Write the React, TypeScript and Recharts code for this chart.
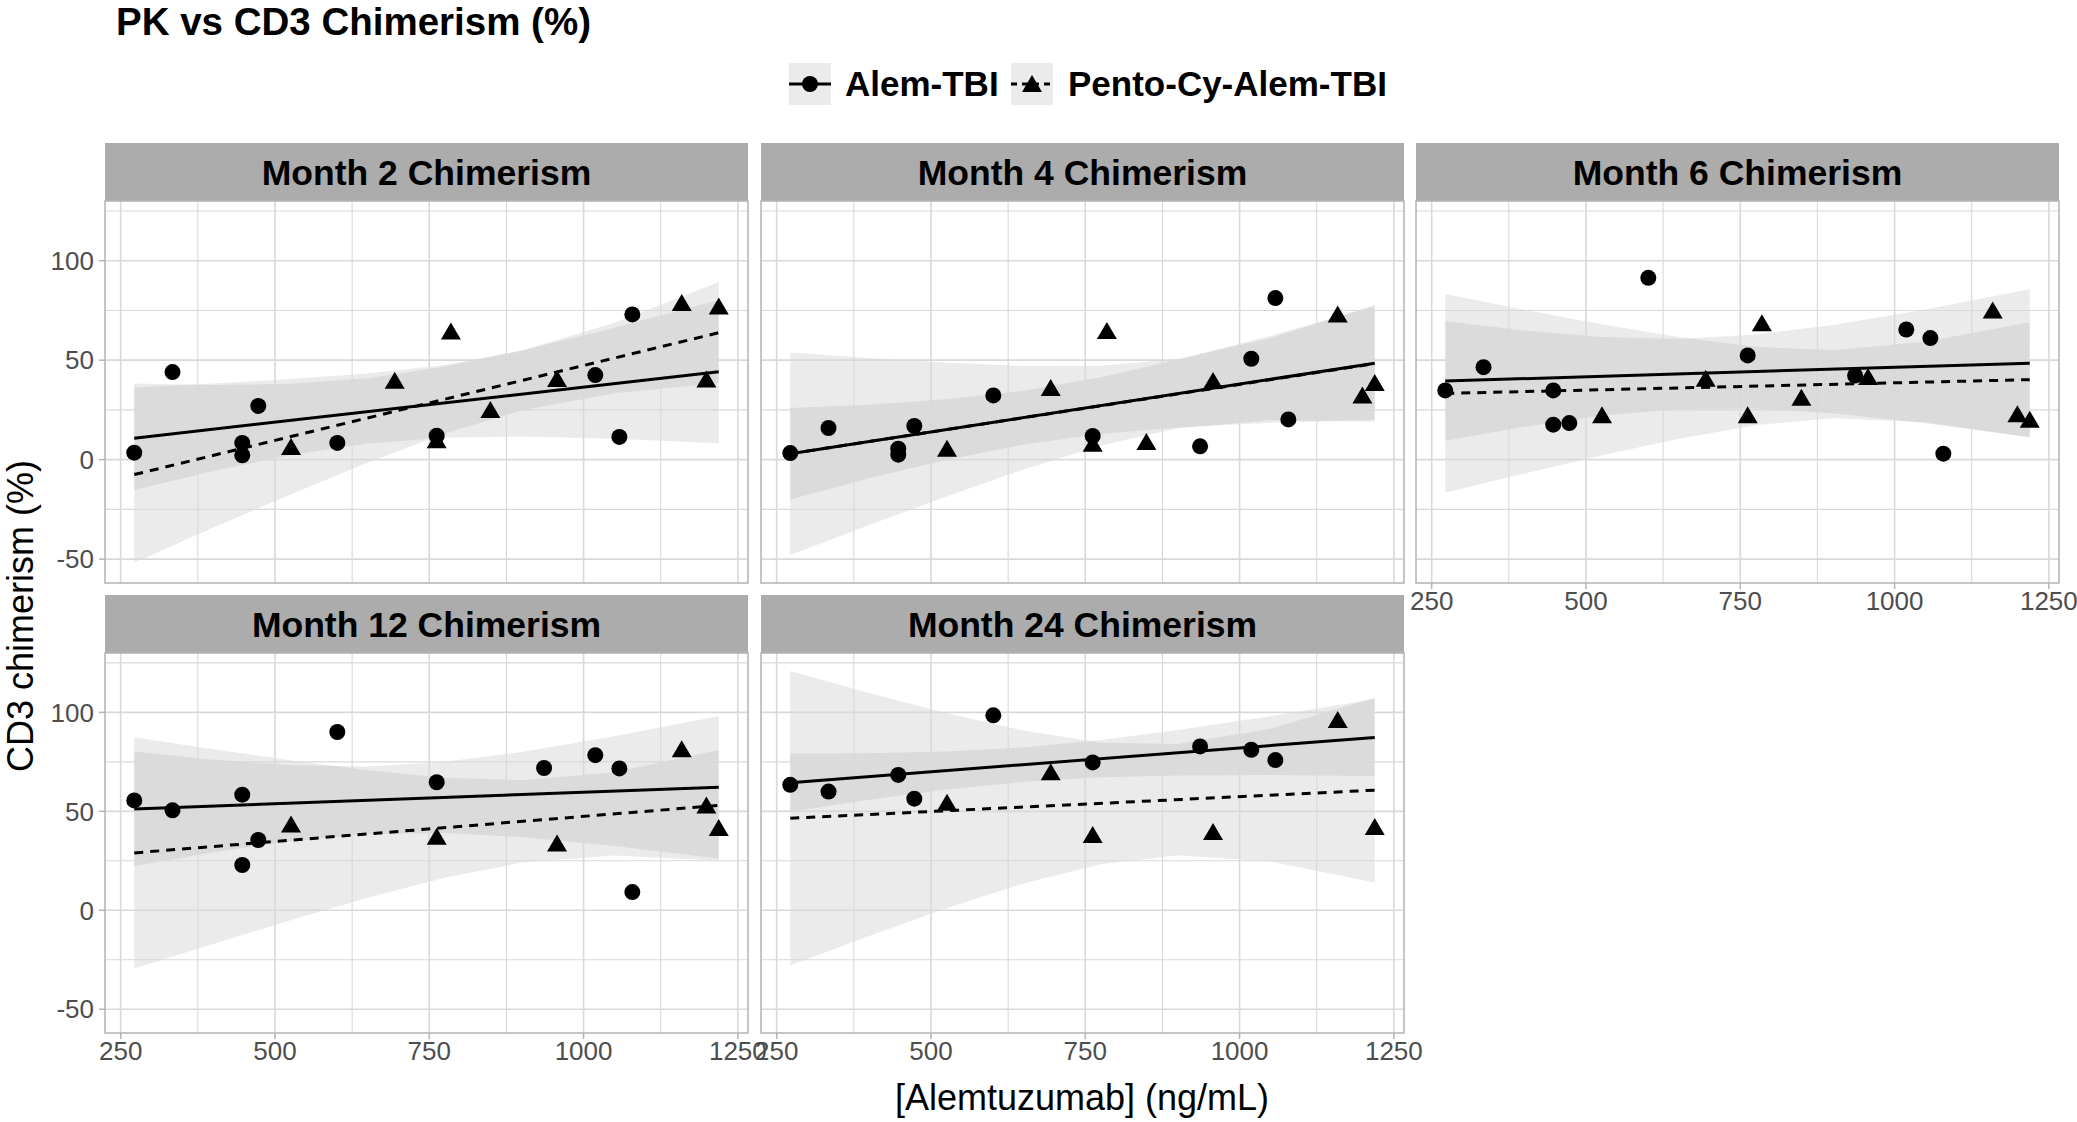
import React from 'react';
import { ComposedChart, Area, Line, Scatter, XAxis, YAxis, ReferenceLine } from 'recharts';

// ---------- data ----------
const PANEL_TITLES = ['Month 2 Chimerism', 'Month 4 Chimerism', 'Month 6 Chimerism', 'Month 12 Chimerism', 'Month 24 Chimerism'];
const SERIES_NAMES = ['Alem-TBI', 'Pento-Cy-Alem-TBI'];
const X_TICKS = [250, 500, 750, 1000, 1250];
const X_MINOR = [375, 625, 875, 1125];
const Y_TICKS = [-50, 0, 50, 100];
const Y_MINOR = [-25, 25, 75, 125];
const X_DOMAIN = [224.6, 1266.4];
const Y_DOMAIN = [-62, 130];

// x positions where the fitted lines / confidence bands were read
const FIT_X = [272, 400, 525, 650, 775, 900, 1050, 1219];

// Month 2
const m2AlemX = [272, 334, 447, 447, 473, 601, 762, 1019, 1058, 1079];
const m2AlemY = [3.5, 44, 8.4, 2.2, 27, 8.4, 12, 42.5, 11.4, 73];
const m2PentoX = [526, 694, 762, 785, 849, 957, 1159, 1199, 1219];
const m2PentoY = [6.4, 39.7, 9.7, 64.4, 24.9, 40.5, 78.7, 40.3, 77];
const m2AlemFit = [10.8, 44.2];
const m2PentoFit = [-7.5, 63.8];
const m2AlemLow = [-15.3, -5.7, 2.3, 8.1, 11.0, 11.6, 10.5, 8.2];
const m2AlemHigh = [38.3, 37.5, 38.1, 40.9, 46.8, 54.8, 66.3, 80.2];
const m2PentoLow = [-51.8, -34.1, -17.5, -1.5, 13.2, 24.8, 33.4, 38.5];
const m2PentoHigh = [36.3, 38.3, 40.5, 43.3, 47.6, 54.8, 68.8, 89.1];

// Month 4
const m4AlemX = [272, 334, 447, 447, 473, 601, 762, 936, 1019, 1058, 1079];
const m4AlemY = [3.3, 15.9, 5.5, 2.5, 16.9, 32.3, 11.9, 6.7, 50.7, 81.2, 20.2];
const m4PentoX = [526, 694, 762, 785, 849, 957, 1159, 1199, 1219];
const m4PentoY = [5.5, 36, 8, 64.6, 8.9, 39.5, 73, 32.3, 38.5];
const m4AlemFit = [3.0, 48.5];
const m4PentoFit = [3.0, 48.3];
const m4AlemLow = [-20.0, -9.4, -0.1, 7.6, 12.9, 16.2, 18.5, 20.0];
const m4AlemHigh = [26.0, 27.6, 30.3, 34.6, 41.4, 50.2, 62.3, 77.0];
const m4PentoLow = [-47.9, -32.9, -18.5, -4.9, 7.1, 15.8, 19.8, 19.1];
const m4PentoHigh = [53.9, 51.1, 48.7, 47.1, 47.2, 50.6, 61.0, 77.9];

// Month 6
const m6AlemX = [272, 334, 447, 447, 473, 601, 762, 936, 1019, 1058, 1079];
const m6AlemY = [34.8, 46.5, 34.8, 17.6, 18.4, 91.4, 52.4, 42.3, 65.4, 61.1, 3.0];
const m6PentoX = [526, 694, 762, 785, 849, 957, 1159, 1199, 1219];
const m6PentoY = [22.3, 40.7, 22.3, 68.6, 31.1, 41.5, 75, 22.8, 20.1];
const m6AlemFit = [39.5, 48.5];
const m6PentoFit = [33.3, 40.2];
const m6AlemLow = [9.5, 16.5, 22.1, 25.5, 25.7, 23.3, 18.3, 11.3];
const m6AlemHigh = [69.5, 64.9, 61.7, 60.7, 62.9, 67.7, 75.5, 85.7];
const m6PentoLow = [-16.6, -7.0, 2.1, 10.5, 17.3, 20.8, 18.8, 11.3];
const m6PentoHigh = [83.2, 75.4, 68.1, 61.6, 56.7, 55.0, 59.2, 69.1];

// Month 12
const m12AlemX = [272, 334, 447, 447, 473, 601, 762, 936, 1019, 1058, 1079];
const m12AlemY = [55.5, 50.5, 58.4, 22.9, 35.5, 90.1, 64.7, 71.9, 78.4, 71.7, 9.2];
const m12PentoX = [526, 762, 957, 1159, 1199, 1219];
const m12PentoY = [43.3, 37.1, 33.8, 81.4, 53.0, 41.6];
const m12AlemFit = [51.2, 62.2];
const m12PentoFit = [29, 53];
const m12AlemLow = [22.2, 29.3, 34.9, 38.5, 39.0, 37.0, 32.5, 26.2];
const m12AlemHigh = [80.2, 76.1, 73.3, 72.7, 75.0, 80.0, 87.9, 98.2];
const m12PentoLow = [-29.4, -17.0, -5.0, 6.4, 16.4, 24.1, 27.7, 25.0];
const m12PentoHigh = [87.4, 81.4, 75.8, 70.8, 67.0, 65.7, 69.7, 81.0];

// Month 24
const m24AlemX = [272, 334, 447, 473, 601, 762, 936, 1019, 1058];
const m24AlemY = [63.4, 60, 68.4, 56.4, 98.5, 74.7, 82.8, 81.1, 75.9];
const m24PentoX = [526, 694, 762, 957, 1159, 1219];
const m24PentoY = [54.3, 69.7, 38, 39.6, 96.2, 42.1];
const m24AlemFit = [64.5, 87.3];
const m24PentoFit = [46.5, 60.7];
const m24AlemLow = [49.8, 55.8, 61.0, 64.9, 67.2, 68.1, 68.3, 67.9];
const m24AlemHigh = [79.2, 79.4, 80.2, 82.3, 86.0, 91.1, 98.1, 106.7];
const m24PentoLow = [-27.9, -13.0, 1.0, 13.6, 23.3, 27.8, 24.7, 14.0];
const m24PentoHigh = [120.9, 109.8, 99.6, 90.8, 84.7, 84.0, 91.7, 107.4];

// ---------- helpers ----------
const FONT = "'Liberation Sans', Arial, Helvetica, sans-serif";
const GRID = '#d9d9d9';
const BORDER = '#b3b3b3';
const STRIP = '#acacac';
const RIBBON = '#999999';

function buildRows(aLow: number[], aHigh: number[], pLow: number[], pHigh: number[], aFit: number[], pFit: number[]) {
  const last = FIT_X.length - 1;
  return FIT_X.map((x, i) => ({
    x,
    alemBand: [aLow[i], aHigh[i]],
    pentoBand: [pLow[i], pHigh[i]],
    alemFit: i === 0 ? aFit[0] : i === last ? aFit[1] : null,
    pentoFit: i === 0 ? pFit[0] : i === last ? pFit[1] : null,
  }));
}

function pts(xs: number[], ys: number[]) {
  return xs.map((x, i) => ({ x, y: ys[i] }));
}

const CircleShape = (p: any) => <circle cx={p.cx} cy={p.cy} r={8} fill="#000" />;
const TriangleShape = (p: any) => (
  <polygon points={`${p.cx},${p.cy - 9} ${p.cx - 10},${p.cy + 8} ${p.cx + 10},${p.cy + 8}`} fill="#000" />
);

// ---------- layout ----------
const PW = 643;
const ML = 100;
const MR = 45;
const MT = 10;
const MB = 55;
const STRIP_H = 58;

const panels = [
  { title: PANEL_TITLES[0], left: 105, top: 201, h: 382, showX: false, showY: true,
    rows: buildRows(m2AlemLow, m2AlemHigh, m2PentoLow, m2PentoHigh, m2AlemFit, m2PentoFit),
    alem: pts(m2AlemX, m2AlemY), pento: pts(m2PentoX, m2PentoY) },
  { title: PANEL_TITLES[1], left: 761, top: 201, h: 382, showX: false, showY: false,
    rows: buildRows(m4AlemLow, m4AlemHigh, m4PentoLow, m4PentoHigh, m4AlemFit, m4PentoFit),
    alem: pts(m4AlemX, m4AlemY), pento: pts(m4PentoX, m4PentoY) },
  { title: PANEL_TITLES[2], left: 1416, top: 201, h: 382, showX: true, showY: false,
    rows: buildRows(m6AlemLow, m6AlemHigh, m6PentoLow, m6PentoHigh, m6AlemFit, m6PentoFit),
    alem: pts(m6AlemX, m6AlemY), pento: pts(m6PentoX, m6PentoY) },
  { title: PANEL_TITLES[3], left: 105, top: 653, h: 380, showX: true, showY: true,
    rows: buildRows(m12AlemLow, m12AlemHigh, m12PentoLow, m12PentoHigh, m12AlemFit, m12PentoFit),
    alem: pts(m12AlemX, m12AlemY), pento: pts(m12PentoX, m12PentoY) },
  { title: PANEL_TITLES[4], left: 761, top: 653, h: 380, showX: true, showY: false,
    rows: buildRows(m24AlemLow, m24AlemHigh, m24PentoLow, m24PentoHigh, m24AlemFit, m24PentoFit),
    alem: pts(m24AlemX, m24AlemY), pento: pts(m24PentoX, m24PentoY) },
];

function Panel({ p }: { p: any }) {
  const tickStyle = { fill: '#4d4d4d', fontSize: 26, fontFamily: FONT };
  return (
    <div style={{ position: 'absolute', left: p.left - ML, top: p.top - MT }}>
      <ComposedChart
        width={PW + ML + MR}
        height={p.h + MT + MB}
        data={p.rows}
        margin={{ top: MT, right: MR, left: p.showY ? 0 : ML, bottom: p.showX ? 0 : MB }}
      >
        <XAxis
          type="number"
          dataKey="x"
          domain={X_DOMAIN}
          ticks={X_TICKS}
          interval={0}
          allowDataOverflow
          hide={!p.showX}
          height={MB}
          tickSize={6}
          tickMargin={3}
          axisLine={false}
          tickLine={{ stroke: BORDER, strokeWidth: 1.5 }}
          tick={tickStyle}
        />
        <YAxis
          type="number"
          domain={Y_DOMAIN}
          ticks={Y_TICKS}
          interval={0}
          allowDataOverflow
          hide={!p.showY}
          width={ML}
          tickSize={6}
          tickMargin={5}
          axisLine={false}
          tickLine={{ stroke: BORDER, strokeWidth: 1.5 }}
          tick={tickStyle}
        />
        {X_MINOR.map((v) => (
          <ReferenceLine key={'xm' + v} x={v} stroke={GRID} strokeWidth={1.1} />
        ))}
        {Y_MINOR.map((v) => (
          <ReferenceLine key={'ym' + v} y={v} stroke={GRID} strokeWidth={1.1} />
        ))}
        {X_TICKS.map((v) => (
          <ReferenceLine key={'xM' + v} x={v} stroke={GRID} strokeWidth={1.6} />
        ))}
        {Y_TICKS.map((v) => (
          <ReferenceLine key={'yM' + v} y={v} stroke={GRID} strokeWidth={1.6} />
        ))}
        <Area dataKey="alemBand" stroke="none" fill={RIBBON} fillOpacity={0.2} dot={false} activeDot={false} isAnimationActive={false} />
        <Area dataKey="pentoBand" stroke="none" fill={RIBBON} fillOpacity={0.2} dot={false} activeDot={false} isAnimationActive={false} />
        <Line dataKey="pentoFit" stroke="#000" strokeWidth={3} strokeDasharray="9 7" dot={false} activeDot={false} connectNulls isAnimationActive={false} />
        <Line dataKey="alemFit" stroke="#000" strokeWidth={3} dot={false} activeDot={false} connectNulls isAnimationActive={false} />
        <Scatter data={p.alem} dataKey="y" shape={CircleShape} isAnimationActive={false} />
        <Scatter data={p.pento} dataKey="y" shape={TriangleShape} isAnimationActive={false} />
      </ComposedChart>
    </div>
  );
}

export default function App() {
  return (
    <div style={{ position: 'absolute', left: 0, top: 0, width: 2077, height: 1122, background: '#fff', fontFamily: FONT }}>
      {panels.map((p, i) => (
        <Panel key={i} p={p} />
      ))}
      <svg width={2077} height={1122} style={{ position: 'absolute', left: 0, top: 0, pointerEvents: 'none' }}>
        <text x={116} y={35} fontSize={38.5} fontWeight="bold" fontFamily={FONT} fill="#000">
          PK vs CD3 Chimerism (%)
        </text>
        {/* legend */}
        <rect x={789} y={63} width={42} height={42} fill="#ebebeb" />
        <line x1={789} y1={84} x2={831} y2={84} stroke="#000" strokeWidth={3} />
        <circle cx={810} cy={84} r={8} fill="#000" />
        <text x={845} y={96} fontSize={35} fontWeight="bold" fontFamily={FONT} fill="#000">
          {SERIES_NAMES[0]}
        </text>
        <rect x={1011} y={63} width={42} height={42} fill="#ebebeb" />
        <line x1={1011} y1={84} x2={1053} y2={84} stroke="#000" strokeWidth={3} strokeDasharray="6 5" />
        <polygon points="1032,75 1022,92 1042,92" fill="#000" />
        <text x={1068} y={96} fontSize={35} fontWeight="bold" fontFamily={FONT} fill="#000">
          {SERIES_NAMES[1]}
        </text>
        {panels.map((p, i) => (
          <g key={'s' + i}>
            <rect x={p.left} y={p.top - STRIP_H} width={PW} height={STRIP_H} fill={STRIP} />
            <text
              x={p.left + PW / 2}
              y={p.top - STRIP_H / 2 + 13}
              fontSize={35.5}
              fontWeight="bold"
              fontFamily={FONT}
              textAnchor="middle"
              fill="#000"
            >
              {p.title}
            </text>
            <rect x={p.left} y={p.top} width={PW} height={p.h} fill="none" stroke={BORDER} strokeWidth={1.5} />
          </g>
        ))}
        <text x={1082} y={1110} fontSize={36} fontFamily={FONT} textAnchor="middle" fill="#000">
          [Alemtuzumab] (ng/mL)
        </text>
        <text
          x={33}
          y={616}
          fontSize={36}
          fontFamily={FONT}
          textAnchor="middle"
          fill="#000"
          transform="rotate(-90 33 616)"
        >
          CD3 chimerism (%)
        </text>
      </svg>
    </div>
  );
}
